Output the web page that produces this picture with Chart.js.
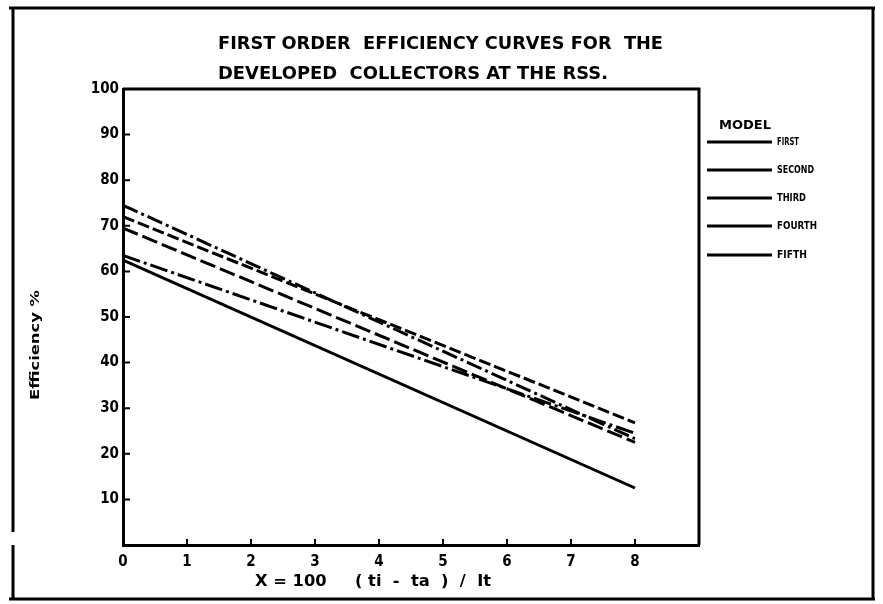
<!DOCTYPE html>
<html><head><meta charset="utf-8">
<script src="https://cdn.jsdelivr.net/npm/chart.js@4/dist/chart.umd.min.js"></script>
<style>html,body{margin:0;padding:0;background:#fff}canvas{display:block}</style>
</head><body>
<canvas id="c" width="883" height="604"></canvas>
<script>
// ---- data ----
const xTickValues = [0, 1, 2, 3, 4, 5, 6, 7, 8];
const yTickValues = [10, 20, 30, 40, 50, 60, 70, 80, 90, 100];
const seriesNames = ['FIRST', 'SECOND', 'THIRD', 'FOURTH', 'FIFTH'];
const xEnds = [0, 8];
const firstModel  = [74.5, 23.3];
const secondModel = [62.5, 12.5];
const thirdModel  = [69.5, 22.5];
const fourthModel = [63.5, 24.5];
const fifthModel  = [72.0, 26.8];
const titleLines = ['FIRST ORDER  EFFICIENCY CURVES FOR  THE', 'DEVELOPED  COLLECTORS AT THE RSS.'];
const yTitle = 'Efficiency %';
const xTitle = 'X = 100     ( ti  -  ta  )  /  It';
const legendTitle = 'MODEL';

const FONT = '"DejaVu Sans Condensed", "Liberation Sans Narrow", "DejaVu Sans", sans-serif';
const INK = '#000';

const seriesValues = [firstModel, secondModel, thirdModel, fourthModel, fifthModel];
const dashes = [[16, 4, 3, 4], [], [16, 5], [18, 4, 3, 4], [12, 4]];

// draw text squeezed/stretched horizontally to a target width (tall narrow lettering)
function fitText(ctx, text, x, y, width, font, align) {
  ctx.save();
  ctx.font = font;
  ctx.textBaseline = 'middle';
  ctx.textAlign = 'left';
  const w = ctx.measureText(text).width;
  const sx = width / w;
  const left = align === 'center' ? x - width / 2 : x;
  ctx.translate(left, y);
  ctx.scale(sx, 1);
  ctx.fillText(text, 0, 0);
  ctx.restore();
}

const paperPlugin = {
  id: 'paper',
  beforeDraw(chart) {
    const ctx = chart.ctx;
    ctx.save();
    ctx.fillStyle = '#fff';
    ctx.fillRect(0, 0, chart.width, chart.height);
    ctx.restore();
  },
  afterDraw(chart) {
    const ctx = chart.ctx;
    const ca = chart.chartArea;
    const xs = chart.scales.x, ys = chart.scales.y;
    ctx.save();
    ctx.fillStyle = INK;
    ctx.strokeStyle = INK;
    // outer frame of the figure
    ctx.lineWidth = 3;
    ctx.beginPath();
    ctx.moveTo(9, 8); ctx.lineTo(875, 8);
    ctx.moveTo(873, 8); ctx.lineTo(873, 599);
    ctx.moveTo(9, 599); ctx.lineTo(875, 599);
    ctx.moveTo(13, 8); ctx.lineTo(13, 532);
    ctx.moveTo(13, 545); ctx.lineTo(13, 599);
    ctx.stroke();
    // plot frame top and right
    ctx.lineWidth = 3;
    ctx.beginPath();
    ctx.moveTo(ca.left, ca.top); ctx.lineTo(ca.right, ca.top); ctx.lineTo(ca.right, ca.bottom);
    ctx.stroke();
    // inward tick marks
    ctx.lineWidth = 2;
    ctx.beginPath();
    xTickValues.forEach(v => {
      if (v === 0) return;
      const px = xs.getPixelForValue(v);
      ctx.moveTo(px, ca.bottom); ctx.lineTo(px, ca.bottom - 6);
    });
    yTickValues.forEach(v => {
      if (v === 100) return;
      const py = ys.getPixelForValue(v);
      ctx.moveTo(ca.left, py); ctx.lineTo(ca.left + 7, py);
    });
    ctx.stroke();
    // titles
    fitText(ctx, titleLines[0], 218, 45, 445, 'bold 17px ' + FONT);
    fitText(ctx, titleLines[1], 218, 75, 390, 'bold 17px ' + FONT);
    fitText(ctx, xTitle, 255, 582, 236, 'bold 15px ' + FONT);
    ctx.save();
    ctx.translate(36, 345);
    ctx.rotate(-Math.PI / 2);
    fitText(ctx, yTitle, 0, 0, 110, 'bold 13px ' + FONT, 'center');
    ctx.restore();
    // legend
    fitText(ctx, legendTitle, 745, 126, 52, 'bold 13px ' + FONT, 'center');
    const itemY = [142, 170, 198, 226, 255];
    const itemW = [22, 37, 29, 40, 30];
    chart.data.datasets.forEach((ds, i) => {
      const y = itemY[i];
      ctx.save();
      ctx.lineWidth = 3;
      ctx.beginPath();
      ctx.moveTo(707, y); ctx.lineTo(772, y);
      ctx.stroke();
      ctx.restore();
      fitText(ctx, ds.label, 777, y, itemW[i], 'bold 10px ' + FONT);
    });
    ctx.restore();
  }
};

const datasets = seriesNames.map((name, i) => ({
  label: name,
  data: xEnds.map((x, j) => ({ x: x, y: seriesValues[i][j] })),
  borderColor: INK,
  backgroundColor: INK,
  borderWidth: 3,
  borderDash: dashes[i],
  pointRadius: 0,
  tension: 0,
  fill: false
}));

new Chart(document.getElementById('c'), {
  type: 'line',
  data: { datasets },
  plugins: [paperPlugin],
  options: {
    responsive: false,
    animation: false,
    devicePixelRatio: 1,
    layout: { padding: { left: 0, right: 184, top: 89, bottom: 0 } },
    plugins: { legend: { display: false }, title: { display: false }, tooltip: { enabled: false } },
    scales: {
      x: {
        type: 'linear', min: 0, max: 9,
        afterFit(s) { s.height = 59; },
        afterBuildTicks(s) { s.ticks = xTickValues.map(v => ({ value: v })); },
        grid: { display: false, drawTicks: false },
        border: { display: true, color: INK, width: 3 },
        ticks: { color: INK, padding: 8, font: { family: FONT, size: 15, weight: 'bold' }, maxRotation: 0, autoSkip: false }
      },
      y: {
        type: 'linear', min: 0, max: 100,
        afterFit(s) { s.width = 123; },
        afterBuildTicks(s) { s.ticks = yTickValues.map(v => ({ value: v })); },
        grid: { display: false, drawTicks: false },
        border: { display: true, color: INK, width: 3 },
        ticks: { color: INK, padding: 4, font: { family: FONT, size: 15, weight: 'bold' }, autoSkip: false }
      }
    }
  }
});
</script>
</body></html>
